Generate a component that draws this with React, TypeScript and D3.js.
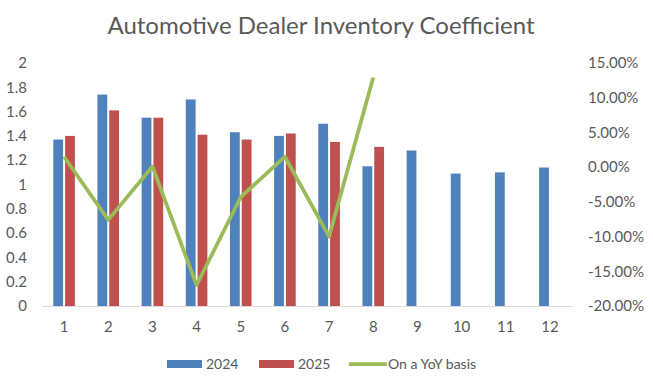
import React, { useEffect, useRef } from "react";
import * as d3 from "d3";

const months = ["1", "2", "3", "4", "5", "6", "7", "8", "9", "10", "11", "12"];
const values2024 = [1.37, 1.74, 1.55, 1.70, 1.43, 1.40, 1.50, 1.15, 1.28, 1.09, 1.10, 1.14];
const values2025 = [1.40, 1.61, 1.55, 1.41, 1.37, 1.42, 1.35, 1.31];
const yoy = [1.5, -7.6, 0.1, -17.0, -4.3, 1.5, -10.0, 12.9];
const leftTicks = [0, 0.2, 0.4, 0.6, 0.8, 1, 1.2, 1.4, 1.6, 1.8, 2];
const rightTicks = [-20, -15, -10, -5, 0, 5, 10, 15];
const seriesNames = ["2024", "2025", "On a YoY basis"];
const title = "Automotive Dealer Inventory Coefficient";

const W = 653, H = 384;
const FONT = "Lato, 'Open Sans', sans-serif";
const TEXT = "#595959";
const C2024 = "#4f81bd", C2025 = "#c0504d", CYOY = "#9bbb59";

export default function App() {
  const ref = useRef<SVGSVGElement>(null);
  useEffect(() => {
    const svg = d3.select(ref.current);
    svg.selectAll("*").remove();
    const left = 42, right = 572, top = 63, bottom = 306;
    const x = d3.scaleBand().domain(months).range([left, right]);
    const yL = d3.scaleLinear().domain([0, 2]).range([bottom, top]);
    const yR = d3.scaleLinear().domain([-20, 15]).range([bottom, top]);
    const bw = 9.8, gap = 2;

    svg.append("text").attr("x", 321).attr("y", 34).attr("text-anchor", "middle")
      .attr("font-family", FONT).attr("font-size", 24).attr("fill", TEXT).text(title);

    // bars
    svg.append("g").selectAll("rect").data(values2024).join("rect")
      .attr("x", (_, i) => x(months[i])! + x.bandwidth() / 2 - gap / 2 - bw)
      .attr("y", d => yL(d)).attr("width", bw).attr("height", d => bottom - yL(d)).attr("fill", C2024);
    svg.append("g").selectAll("rect").data(values2025).join("rect")
      .attr("x", (_, i) => x(months[i])! + x.bandwidth() / 2 + gap / 2)
      .attr("y", d => yL(d)).attr("width", bw).attr("height", d => bottom - yL(d)).attr("fill", C2025);

    // axis line
    svg.append("line").attr("x1", left).attr("x2", right).attr("y1", bottom + 0.5).attr("y2", bottom + 0.5)
      .attr("stroke", "#d9d9d9").attr("stroke-width", 1);

    // line
    const line = d3.line<number>().x((_, i) => x(months[i])! + x.bandwidth() / 2).y(d => yR(d));
    svg.append("path").datum(yoy).attr("d", line).attr("fill", "none").attr("stroke", CYOY)
      .attr("stroke-width", 3.75).attr("stroke-linejoin", "round");

    // left ticks
    svg.append("g").selectAll("text").data(leftTicks).join("text")
      .attr("x", 27).attr("y", d => yL(d)).attr("dy", "0.35em").attr("text-anchor", "end")
      .attr("font-family", FONT).attr("font-size", 15).attr("fill", TEXT)
      .text(d => d3.format("~g")(d));
    // right ticks
    svg.append("g").selectAll("text").data(rightTicks).join("text")
      .attr("x", 588).attr("y", d => yR(d)).attr("dy", "0.35em").attr("text-anchor", "start")
      .attr("font-family", FONT).attr("font-size", 15).attr("fill", TEXT)
      .text(d => d.toFixed(2) + "%");
    // x labels
    svg.append("g").selectAll("text").data(months).join("text")
      .attr("x", d => x(d)! + x.bandwidth() / 2).attr("y", 327).attr("dy", "0.35em").attr("text-anchor", "middle")
      .attr("font-family", FONT).attr("font-size", 15).attr("fill", TEXT).text(d => d);

    // legend
    const lg = svg.append("g");
    const fs = 14;
    lg.append("rect").attr("x", 167).attr("y", 360).attr("width", 35).attr("height", 8).attr("fill", C2024);
    lg.append("text").attr("x", 206).attr("y", 364).attr("dy", "0.35em").attr("font-family", FONT)
      .attr("font-size", fs).attr("fill", TEXT).text(seriesNames[0]);
    lg.append("rect").attr("x", 259).attr("y", 360).attr("width", 35).attr("height", 8).attr("fill", C2025);
    lg.append("text").attr("x", 298).attr("y", 364).attr("dy", "0.35em").attr("font-family", FONT)
      .attr("font-size", fs).attr("fill", TEXT).text(seriesNames[1]);
    lg.append("line").attr("x1", 349).attr("x2", 387).attr("y1", 364).attr("y2", 364)
      .attr("stroke", CYOY).attr("stroke-width", 3.75);
    lg.append("text").attr("x", 388).attr("y", 364).attr("dy", "0.35em").attr("font-family", FONT)
      .attr("font-size", fs).attr("fill", TEXT).text(seriesNames[2]);
  }, []);
  return (
    <svg ref={ref} width={W} height={H}
      style={{ position: "absolute", left: 0, top: 0, background: "#fff" }} />
  );
}
